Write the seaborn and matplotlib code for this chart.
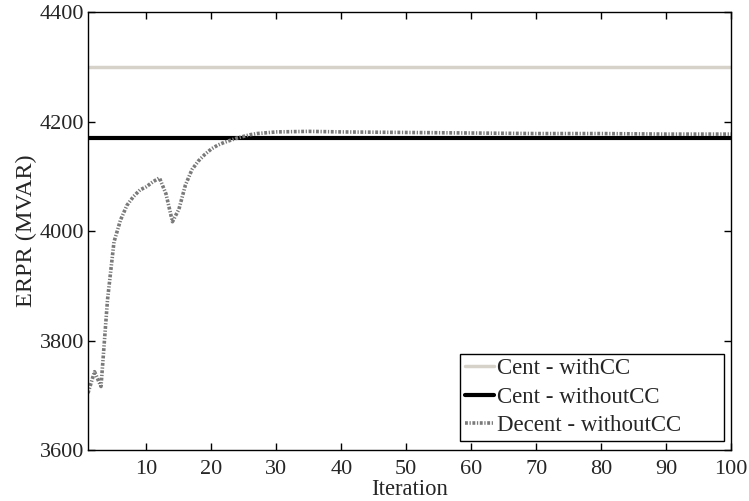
import matplotlib
matplotlib.use("Agg")
import matplotlib.pyplot as plt
from matplotlib import font_manager as fm
import seaborn as sns
import pandas as pd

# Iteration axis and ERPR values (MVAR)
cent_iter = [1, 100]
cent_with_cc = [4300, 4300]
cent_without_cc = [4170, 4170]

decent_iter = list(range(1, 31)) + [35, 40, 50, 60, 70, 80, 90, 100]
decent_without_cc = [3704, 3743, 3716, 3874, 3980, 4020, 4047, 4063, 4075, 4081,
                     4090, 4097, 4068, 4017, 4040, 4084, 4112, 4128, 4140, 4150,
                     4157, 4162, 4166, 4170, 4173, 4176, 4178, 4179, 4180, 4181,
                     4182, 4181, 4180, 4179, 4178, 4178, 4177, 4177]

sns.set_style("ticks")

# register the Liberation Serif files explicitly so the serif face is used
serif_name = "DejaVu Serif"
for path in fm.findSystemFonts():
    if "LiberationSerif-Regular" in path:
        fm.fontManager.addfont(path)
        serif_name = fm.FontProperties(fname=path).get_name()
plt.rcParams["font.family"] = [serif_name, "DejaVu Serif"]
plt.rcParams["xtick.direction"] = "in"
plt.rcParams["ytick.direction"] = "in"

fig = plt.figure(figsize=(7.49, 5.01), dpi=100)
ax = fig.add_axes([0.1175, 0.1018, 0.8585, 0.8742])

df_a = pd.DataFrame({"Iteration": cent_iter, "ERPR": cent_with_cc})
df_b = pd.DataFrame({"Iteration": cent_iter, "ERPR": cent_without_cc})
df_c = pd.DataFrame({"Iteration": decent_iter, "ERPR": decent_without_cc})

sns.lineplot(data=df_a, x="Iteration", y="ERPR", ax=ax, color="#d6d2ca",
             linewidth=2.5, label="Cent - withCC")
sns.lineplot(data=df_b, x="Iteration", y="ERPR", ax=ax, color="black",
             linewidth=3, label="Cent - withoutCC")
sns.lineplot(data=df_c, x="Iteration", y="ERPR", ax=ax, color="#7a7a7a",
             linewidth=2.6, linestyle=(0, (0.8, 0.45, 0.35, 0.45)),
             label="Decent - withoutCC")

ax.set_xlim(1, 100)
ax.set_ylim(3600, 4400)
ax.set_xticks([10, 20, 30, 40, 50, 60, 70, 80, 90, 100])
ax.set_yticks([3600, 3800, 4000, 4200, 4400])
ax.tick_params(axis="both", which="both", top=True, right=True, length=5,
               width=1, labelsize=16, color="black")
ax.tick_params(axis="x", pad=7)
ax.tick_params(axis="y", pad=3)
for s in ax.spines.values():
    s.set_linewidth(1)
    s.set_color("black")

ax.set_xlabel("Iteration", fontsize=16.3, labelpad=0)
ax.set_ylabel("ERPR (MVAR)", fontsize=17.5, labelpad=2)

leg = ax.legend(loc="lower left", bbox_to_anchor=(0.5785, 0.0205, 0.4105, 0.2),
                mode="expand", borderaxespad=0, fontsize=16.5, frameon=True,
                fancybox=False, edgecolor="black", framealpha=1,
                handlelength=1.3, handletextpad=0.1, borderpad=0.2,
                labelspacing=0.33)
leg.get_frame().set_linewidth(1)

fig.savefig("out.png", dpi=100)
